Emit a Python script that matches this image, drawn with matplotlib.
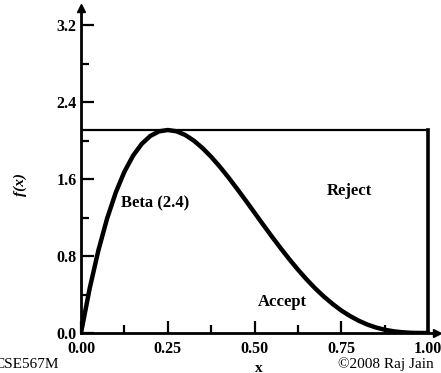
import matplotlib.pyplot as plt
from matplotlib.ticker import MultipleLocator

# Beta(2,4) density
x_vals = [0.0, 0.025, 0.05, 0.075, 0.10, 0.125, 0.15, 0.175, 0.20, 0.225, 0.25,
          0.275, 0.30, 0.325, 0.35, 0.375, 0.40, 0.425, 0.45, 0.475, 0.50,
          0.525, 0.55, 0.575, 0.60, 0.625, 0.65, 0.675, 0.70, 0.725, 0.75,
          0.775, 0.80, 0.825, 0.85, 0.875, 0.90, 0.925, 0.95, 0.975, 1.0]
f_vals = [0.0, 0.463, 0.857, 1.187, 1.458, 1.675, 1.842, 1.965, 2.048, 2.095, 2.109,
          2.096, 2.058, 1.999, 1.922, 1.831, 1.728, 1.616, 1.497, 1.375, 1.250,
          1.125, 1.002, 0.883, 0.768, 0.659, 0.557, 0.463, 0.378, 0.302, 0.234,
          0.177, 0.128, 0.088, 0.057, 0.034, 0.018, 0.008, 0.002, 0.0003, 0.0]
box_top = 2.11
x_ticks = [0.0, 0.25, 0.5, 0.75, 1.0]
x_labels = ["0.00", "0.25", "0.50", "0.75", "1.00"]
y_ticks = [0.0, 0.8, 1.6, 2.4, 3.2]
y_labels = ["0.0", "0.8", "1.6", "2.4", "3.2"]

plt.rcParams['font.family'] = 'Liberation Serif'

fig = plt.figure(figsize=(4.41, 3.73), dpi=100)
ax = fig.add_axes([81 / 441, 40 / 373, 355.7 / 441, 325.3 / 373])
ax.set_xlim(0, 1.025)
ax.set_ylim(0, 3.38)

ax.plot(x_vals, f_vals, color='black', lw=3.2, solid_capstyle='round')
ax.plot([0, 1], [box_top, box_top], color='black', lw=1.6)
ax.plot([1, 1], [0, box_top], color='black', lw=2.6)

for s in ['top', 'right']:
    ax.spines[s].set_visible(False)
for s in ['left', 'bottom']:
    ax.spines[s].set_linewidth(2.0)
ax.plot(0, 1, marker='^', color='black', ms=6, transform=ax.transAxes, clip_on=False)
ax.plot(1, 0, marker='>', color='black', ms=6, transform=ax.transAxes, clip_on=False)

ax.set_xticks(x_ticks)
ax.set_xticklabels(x_labels, fontweight='bold', fontsize=11.5)
ax.set_yticks(y_ticks)
ax.set_yticklabels(y_labels, fontweight='bold', fontsize=11.5)
ax.xaxis.set_minor_locator(MultipleLocator(0.125))
ax.yaxis.set_minor_locator(MultipleLocator(0.4))
ax.tick_params(which='major', direction='in', length=9, width=1.6)
ax.tick_params(axis='x', which='major', pad=6)
ax.tick_params(axis='y', which='major', pad=3)
ax.tick_params(which='minor', direction='in', length=6, width=1.6)

ax.text(0.115, 1.35, "Beta (2.4)", fontsize=12, fontweight='bold', va='center')
ax.text(0.709, 1.475, "Reject", fontsize=12, fontweight='bold', va='center')
ax.text(0.51, 0.32, "Accept", fontsize=12, fontweight='bold', va='center')

fig.text(20 / 441, 1 - 185 / 373, "f(x)", rotation=90, fontsize=11, style='italic',
         fontweight='bold', ha='center', va='center')
fig.text(259 / 441, 1 - 368 / 373, "x", fontsize=11, fontweight='bold', ha='center', va='center')
fig.text(-6 / 441, 2 / 373, "CSE567M", fontsize=11, ha='left', va='bottom')
fig.text(434 / 441, 2 / 373, "\u00a92008 Raj Jain", fontsize=11, ha='right', va='bottom')

fig.savefig("out.png", dpi=100)
